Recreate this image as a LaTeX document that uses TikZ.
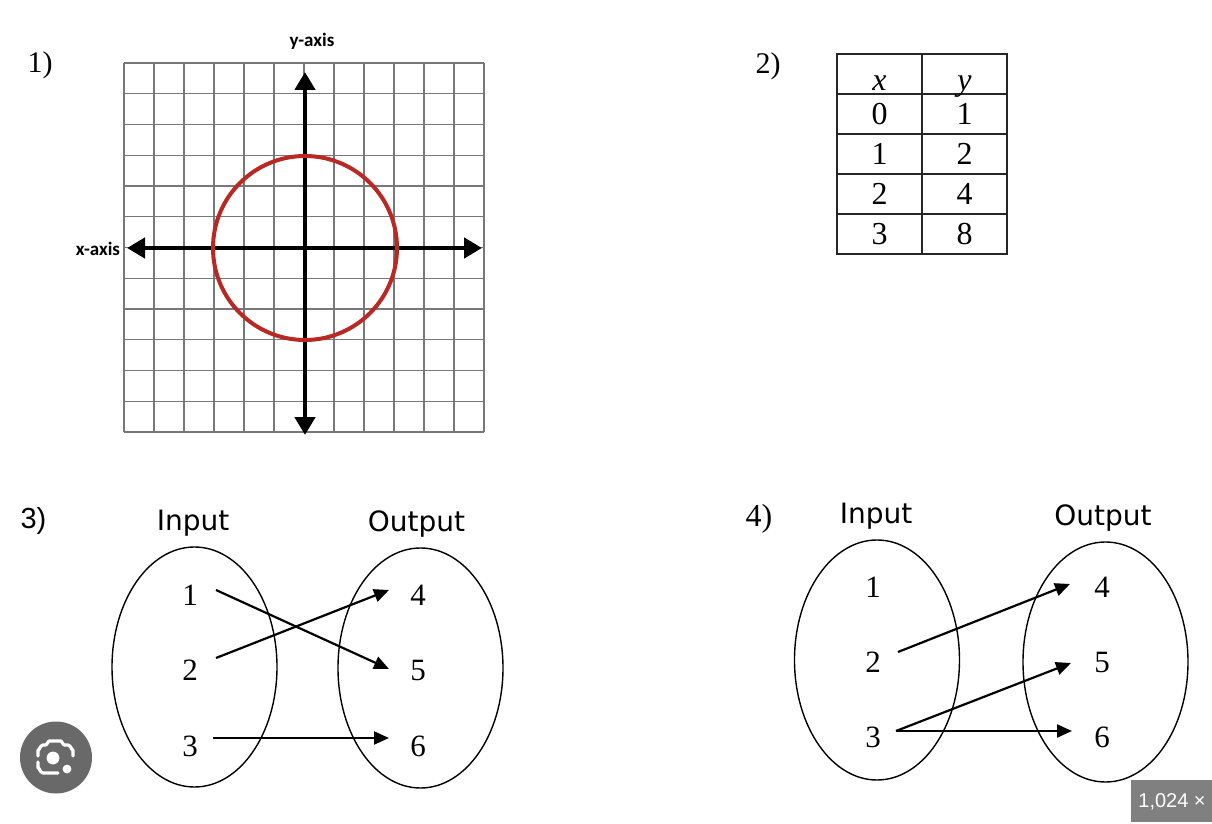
\documentclass[tikz,border=0pt]{standalone}
\usepackage{fontspec}
\setmainfont{Liberation Serif}
\newfontfamily\dvs{DejaVu Sans}
\newfontfamily\crl{Carlito}
\newfontfamily\lsans{Liberation Sans}
\usetikzlibrary{arrows.meta,shapes.geometric}
\definecolor{circred}{RGB}{185,40,35}
\definecolor{gridgray}{RGB}{120,120,120}
\definecolor{lensgray}{RGB}{105,105,105}
\definecolor{badgegray}{RGB}{128,128,128}
\begin{document}
\begin{tikzpicture}[x=0.5pt,y=-0.5pt,
  num/.style={font=\fontsize{15.5}{18}\selectfont, inner sep=0pt},
  lbl/.style={font=\dvs\fontsize{14}{16}\selectfont, inner sep=0pt, anchor=base},
  setell/.style={draw, ellipse, line width=0.7pt, minimum width=82.5pt, minimum height=120pt, inner sep=0pt},
  maparrow/.style={-{Triangle[length=7.5pt,width=6.5pt]}, line width=1.1pt},
  axisarrow/.style={{Triangle[length=9pt,width=10pt]}-{Triangle[length=9pt,width=10pt]}, line width=2.3pt},
  gridline/.style={gridgray, line width=0.6pt},
  tabline/.style={line width=1pt, draw=black!85},
  tabtxt/.style={font=\fontsize{16}{18}\selectfont, inner sep=0pt, anchor=base},
  part/.style={font=\fontsize{15}{17}\selectfont, inner sep=0pt},
  axlbl/.style={font=\crl\bfseries\fontsize{9.5}{11}\selectfont, inner sep=0pt},
]
\useasboundingbox[fill=white] (0,0) rectangle (1212,824);

% ---------- 1) ----------
\node[part] (p1) at (40,65) {1)};
\foreach \i in {0,...,12} {
  \draw[gridline] (124+30*\i,63) -- (124+30*\i,432);
  \draw[gridline] (124,63+30.75*\i) -- (484,63+30.75*\i);
}
\coordinate (ytop) at (305,72);
\coordinate (ybot) at (305,435);
\coordinate (xleft) at (127,248);
\coordinate (xright) at (482,248);
\draw[axisarrow] (ybot) -- (ytop);
\draw[axisarrow] (xleft) -- (xright);
\coordinate (origin) at (305,248);
\draw[circred, line width=2pt] (origin) circle[radius=46pt];
\node[axlbl] (ylab) at (312,41) {y-axis};
\node[axlbl] (xlab) at (98,249) {x-axis};

% ---------- 2) ----------
\node[part] (p2) at (768,66) {2)};
\draw[tabline] (837,54) rectangle (1007,254);
\draw[tabline] (922,54) -- (922,254);
\foreach \r in {94,134,174,214} { \draw[tabline] (837,\r) -- (1007,\r); }
\node[tabtxt] (hx) at (879.5,91) {\itshape x};
\node[tabtxt] (hy) at (964.5,91) {\itshape y};
\node[tabtxt] (c01) at (879.5,125) {0};
\node[tabtxt] (c02) at (964.5,125) {1};
\node[tabtxt] (c11) at (879.5,165) {1};
\node[tabtxt] (c12) at (964.5,165) {2};
\node[tabtxt] (c21) at (879.5,205) {2};
\node[tabtxt] (c22) at (964.5,205) {4};
\node[tabtxt] (c31) at (879.5,245) {3};
\node[tabtxt] (c32) at (964.5,245) {8};

% ---------- 3) ----------
\node[font=\lsans\fontsize{14.5}{16}\selectfont, inner sep=0pt] (p3) at (33.5,521) {3)};
\node[lbl] (in3) at (193,530) {Input};
\node[lbl] (out3) at (416.5,531) {Output};
\node[setell] (L3) at (194.5,667) {};
\node[setell] (R3) at (420.5,668) {};
\node[num] (a1) at (190,595) {1};
\node[num] (a2) at (190,670.5) {2};
\node[num] (a3) at (190,746) {3};
\node[num] (b4) at (418,595) {4};
\node[num] (b5) at (418,670.5) {5};
\node[num] (b6) at (418,746) {6};
\coordinate (s1) at (216,590);
\coordinate (s2) at (216,658);
\coordinate (s3) at (213,738);
\coordinate (e4) at (389,590);
\coordinate (e5) at (389,669);
\coordinate (e6) at (389,738);
\draw[maparrow] (s1) -- (e5);
\draw[maparrow] (s2) -- (e4);
\draw[maparrow] (s3) -- (e6);

% ---------- 4) ----------
\node[part, font=\fontsize{16}{18}\selectfont] (p4) at (759,519) {4)};
\node[lbl] (in4) at (876,523) {Input};
\node[lbl] (out4) at (1103,525) {Output};
\node[setell] (L4) at (877,660) {};
\node[setell] (R4) at (1105.5,662) {};
\node[num] (c1) at (873,587.5) {1};
\node[num] (c2) at (873,662.5) {2};
\node[num] (c3) at (873,737.5) {3};
\node[num] (d4) at (1102,587.5) {4};
\node[num] (d5) at (1102,662.5) {5};
\node[num] (d6) at (1102,737.5) {6};
\coordinate (t2) at (898,652);
\coordinate (t3) at (896,731);
\coordinate (f4) at (1070,584);
\coordinate (f5) at (1071,663);
\coordinate (f6) at (1072,731);
\draw[maparrow] (t2) -- (f4);
\draw[maparrow] (t3) -- (f5);
\draw[maparrow] (t3) -- (f6);

% ---------- overlays ----------
\fill[lensgray] (56,757.5) circle[radius=18pt];
\draw[white, line width=1.6pt, line cap=round, line join=round]
  (38,756) -- (38,750) to[out=-90,in=180] (43,745) -- (46,745) -- (49,741) -- (61,741) -- (64,745) -- (68,745) to[out=0,in=-90] (73,750) -- (73,756);
\draw[white, line width=1.6pt, line cap=round, line join=round]
  (38,762) -- (38,768) to[out=90,in=180] (43,773) -- (58,773);
\fill[white] (53,758) circle[radius=3.2pt];
\fill[white] (67,769) circle[radius=2.2pt];

\fill[badgegray] (1131,780) rectangle (1212,822);
\node[font=\lsans\fontsize{10}{12}\selectfont, text=white, inner sep=0pt, anchor=base west] (badge) at (1138,807) {1,024 × 6};
\end{tikzpicture}
\end{document}
